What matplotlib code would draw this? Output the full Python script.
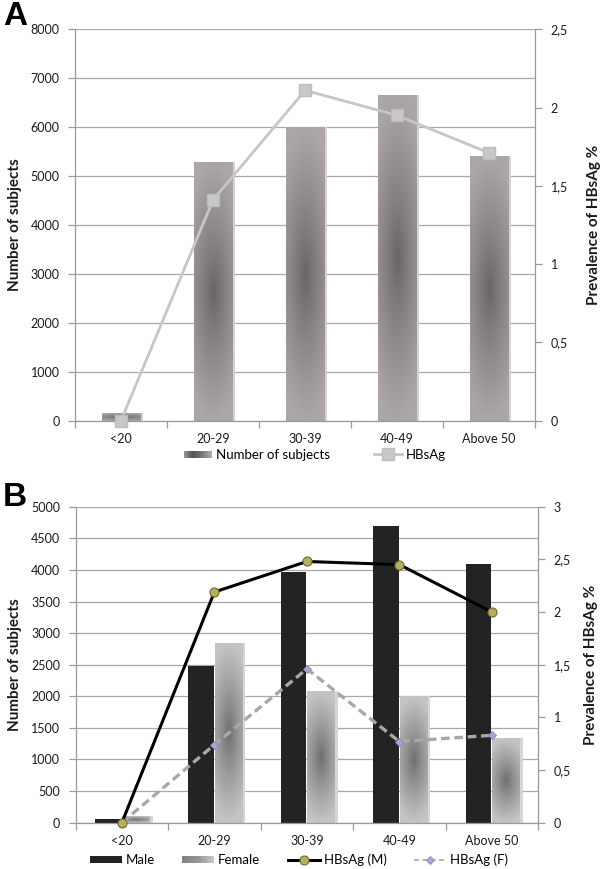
import numpy as np
import matplotlib
matplotlib.use('Agg')
import matplotlib.pyplot as plt
from matplotlib.patches import Rectangle, Patch
from matplotlib.lines import Line2D
from matplotlib.legend_handler import HandlerBase
from matplotlib.ticker import FuncFormatter, MultipleLocator, FixedLocator

# ---------------- data ----------------
categories = ['<20', '20-29', '30-39', '40-49', 'Above 50']
subjects_total = [150, 5280, 6000, 6660, 5410]
hbsag_total = [0.0, 1.41, 2.11, 1.95, 1.71]

subjects_male = [55, 2480, 3970, 4700, 4100]
subjects_female = [105, 2850, 2080, 2000, 1340]
hbsag_male = [0.0, 2.19, 2.48, 2.45, 2.0]
hbsag_female = [0.0, 0.74, 1.46, 0.77, 0.83]

plt.rcParams['font.family'] = ['Lato', 'DejaVu Sans']
TICK_FS = 9
LEG_FS = 9.5
LABEL_FS = 11
GRID_C = '#a8a8a8'
SPINE_C = '#9a9a9a'
TEXT_C = '#1a1a1a'


def comma_fmt(v, pos):
    return ('%g' % v).replace('.', ',')


def gradient_fill(ax, bars, light, dark, cy=0.5, zorder=2):
    light = np.array(light, float)
    dark = np.array(dark, float)
    ny, nx = 120, 40
    yy, xx = np.mgrid[0:1:ny * 1j, -1:1:nx * 1j]
    dy = (yy - cy) / max(cy, 1 - cy)
    r = np.sqrt(dy ** 2 + 0.35 * xx ** 2)
    t = np.clip(r, 0, 1) ** 0.85
    img = (dark + (light - dark) * t[..., None]) / 255.0
    for b in bars:
        x0, y0 = b.get_x(), b.get_y()
        w, h = b.get_width(), b.get_height()
        im = ax.imshow(img, extent=(x0, x0 + w, y0, y0 + h), origin='lower',
                       aspect='auto', zorder=zorder, interpolation='bilinear')
        im.set_clip_path(b)
        b.set_facecolor('none')
        b.set_edgecolor('none')


class GradHandler(HandlerBase):
    def __init__(self, colors):
        self.colors = [np.array(c, float) / 255.0 for c in colors]
        super().__init__()

    def create_artists(self, legend, orig_handle, xdescent, ydescent,
                       width, height, fontsize, trans):
        arts = []
        n = 30
        k = len(self.colors) - 1
        h = height * 0.8
        y0 = -ydescent + (height - h) / 2
        for i in range(n):
            t = (i + 0.5) / n * k
            j = min(int(t), k - 1)
            f = t - j
            c = self.colors[j] * (1 - f) + self.colors[j + 1] * f
            r = Rectangle((-xdescent + width * i / n, y0), width / n * 1.08, h,
                          facecolor=np.clip(c, 0, 1), edgecolor='none', transform=trans)
            arts.append(r)
        return arts


def style_axes(ax, ax2, ymax, ystep, y2max, y2step):
    x = np.arange(len(categories))
    ax.set_xlim(-0.5, len(categories) - 0.5)
    ax.set_ylim(0, ymax)
    ax2.set_ylim(0, y2max)
    ax.yaxis.set_major_locator(MultipleLocator(ystep))
    ax2.yaxis.set_major_locator(MultipleLocator(y2step))
    ax2.yaxis.set_major_formatter(FuncFormatter(comma_fmt))
    ax.set_xticks(x)
    ax.set_xticklabels(categories)
    ax.xaxis.set_minor_locator(FixedLocator(np.arange(-0.5, len(categories), 1.0)))
    ax.tick_params(axis='x', which='major', length=0, pad=9, labelsize=TICK_FS, colors=TEXT_C)
    ax.tick_params(axis='x', which='minor', length=5, width=0.9, color=SPINE_C, direction='out')
    ax.tick_params(axis='y', length=5, width=0.9, color=SPINE_C, labelsize=TICK_FS,
                   labelcolor=TEXT_C, pad=6)
    ax2.tick_params(axis='y', length=5, width=0.9, color=SPINE_C, labelsize=TICK_FS,
                    labelcolor=TEXT_C, pad=6)
    ax.grid(axis='y', color=GRID_C, lw=0.9)
    ax.set_axisbelow(True)
    for s in ['top', 'right']:
        ax.spines[s].set_visible(False)
    for s in ['top', 'left', 'bottom']:
        ax2.spines[s].set_visible(False)
    ax.spines['left'].set_color(SPINE_C)
    ax.spines['bottom'].set_color(SPINE_C)
    ax2.spines['right'].set_color(SPINE_C)
    for s in ['left', 'bottom']:
        ax.spines[s].set_linewidth(0.9)
    ax2.spines['right'].set_linewidth(0.9)
    ax.set_ylabel('Number of subjects', fontsize=LABEL_FS, fontweight='bold', color=TEXT_C)
    ax2.set_ylabel('Prevalence of HBsAg %', fontsize=LABEL_FS, fontweight='bold',
                   color=TEXT_C, rotation=90)


fig = plt.figure(figsize=(6, 8.69), dpi=100)

# ---------------- Panel A ----------------
axA = fig.add_axes([0.125, 0.5159, 0.767, 0.4504])
axA2 = axA.twinx()
x = np.arange(len(categories))
wA = 0.42
axA.bar(x + 0.03, subjects_total, wA, color='#d4d2d2', zorder=1.5)
barsA = axA.bar(x, subjects_total, wA, zorder=2)
gradient_fill(axA, barsA, light=(172, 166, 166), dark=(104, 98, 98), cy=0.5)
axA2.plot(x, hbsag_total, color='#c6c6c6', lw=2, marker='s', ms=9,
          mfc='#c8c8c8', mec='#bcbcbc', clip_on=False, zorder=5)
style_axes(axA, axA2, 8000, 1000, 2.5, 0.5)
axA.yaxis.set_label_coords(-0.115, 0.5)
axA2.yaxis.set_label_coords(1.112, 0.5)

hA1 = Patch(facecolor='#777777', label='Number of subjects')
hA2 = Line2D([], [], color='#c6c6c6', lw=2, marker='s', ms=8, mfc='#c8c8c8',
             mec='#bcbcbc', label='HBsAg')
fig.legend(handles=[hA1, hA2], loc='center', bbox_to_anchor=(0.525, 0.4764), ncol=2,
           frameon=False, fontsize=LEG_FS, handlelength=2.1, handletextpad=0.3,
           columnspacing=3.4,
           handler_map={hA1: GradHandler([(150, 150, 150), (85, 85, 85), (120, 120, 120),
                                          (175, 175, 175)])})

# ---------------- Panel B ----------------
axB = fig.add_axes([0.126, 0.0533, 0.771, 0.3636])
axB2 = axB.twinx()
wM = 0.28
wF = 0.30
axB.bar(x - 0.145, subjects_male, wM, color='#232323', zorder=2)
axB.bar(x + 0.155 + 0.03, subjects_female, wF, color='#d6d6d6', zorder=1.5)
barsF = axB.bar(x + 0.155, subjects_female, wF, zorder=2)
gradient_fill(axB, barsF, light=(196, 196, 196), dark=(108, 108, 108), cy=0.5)
axB2.plot(x, hbsag_male, color='black', lw=2.2, marker='o', ms=6.5,
          mfc='#b3b159', mec='#6b6a2c', mew=0.8, clip_on=False, zorder=6)
axB2.plot(x, hbsag_female, color='#a8a8a8', lw=2.4, ls=(0, (2.6, 1.4)), marker='D', ms=4.5,
          mfc='#b2a4d2', mec='#8f80b6', mew=0.6, clip_on=False, zorder=5)
style_axes(axB, axB2, 5000, 500, 3, 0.5)
axB.yaxis.set_label_coords(-0.115, 0.5)
axB2.yaxis.set_label_coords(1.10, 0.5)

hB1 = Patch(facecolor='#222222', label='Male')
hB2 = Patch(facecolor='#999999', label='Female')
hB3 = Line2D([], [], color='black', lw=2.2, marker='o', ms=6.5, mfc='#b3b159',
             mec='#6b6a2c', mew=0.8, label='HBsAg (M)')
hB4 = Line2D([], [], color='#a8a8a8', lw=1.2, ls=(0, (3, 2)), marker='D', ms=4.5,
             mfc='#b2a4d2', mec='#8f80b6', mew=0.6, label='HBsAg (F)')
fig.legend(handles=[hB1, hB2, hB3, hB4], loc='center', bbox_to_anchor=(0.498, 0.0105), ncol=4,
           frameon=False, fontsize=LEG_FS, handlelength=2.4, handletextpad=0.3,
           columnspacing=2.1,
           handler_map={hB1: GradHandler([(34, 34, 34), (34, 34, 34)]),
                        hB2: GradHandler([(130, 130, 130), (150, 150, 150), (200, 200, 200)])})

fig.text(0.005, 0.999, 'A', fontsize=24, fontweight='bold', va='top', ha='left', color='black',
         family=['Liberation Sans', 'DejaVu Sans'])
fig.text(0.005, 0.445, 'B', fontsize=24, fontweight='bold', va='top', ha='left', color='black',
         family=['Liberation Sans', 'DejaVu Sans'])

fig.savefig('out.png', dpi=100)
